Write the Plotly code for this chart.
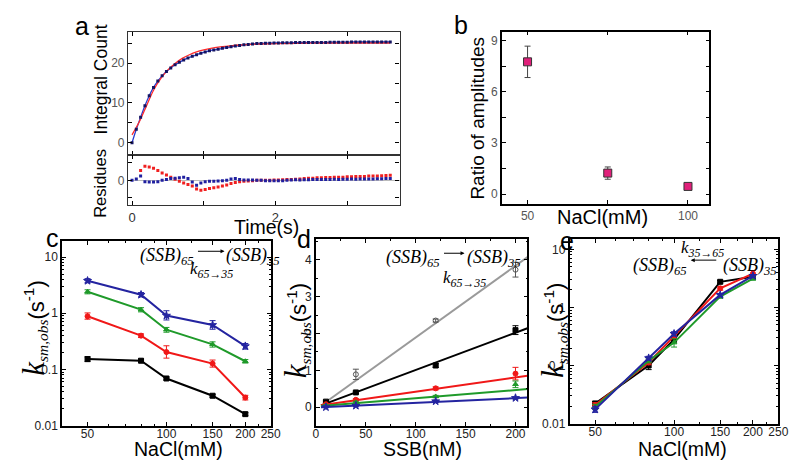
import plotly.graph_objects as go

W, H = 800, 463
def px(x): return x / W
def py(y): return 1 - y / H

# ---------------- data ----------------
# panel a : integral count trace
time_s = [0.00, 0.06, 0.12, 0.18, 0.24, 0.30, 0.36, 0.42, 0.48, 0.54,
          0.60, 0.66, 0.72, 0.78, 0.84, 0.90, 0.96, 1.02, 1.08, 1.14,
          1.20, 1.26, 1.32, 1.38, 1.44, 1.50, 1.56, 1.62, 1.68, 1.74,
          1.80, 1.86, 1.92, 1.98, 2.04, 2.10, 2.16, 2.22, 2.28, 2.34,
          2.40, 2.46, 2.52, 2.58, 2.64, 2.70, 2.76, 2.82, 2.88, 2.94,
          3.00, 3.06, 3.12, 3.18, 3.24, 3.30, 3.36, 3.42, 3.48, 3.54,
          3.60]
integral_count = [0.0, 3.4, 6.4, 9.3, 11.8, 13.9, 15.5, 16.8, 17.9, 18.8,
                  19.6, 20.2, 20.8, 21.3, 21.7, 22.1, 22.5, 22.8, 23.1, 23.3,
                  23.5, 23.7, 23.9, 24.1, 24.3, 24.4, 24.6, 24.7, 24.8, 24.9,
                  24.95, 25.0, 25.0, 25.05, 25.05, 25.1, 25.1, 25.1, 25.15, 25.15,
                  25.15, 25.2, 25.2, 25.2, 25.2, 25.2, 25.25, 25.25, 25.25, 25.25,
                  25.25, 25.3, 25.3, 25.3, 25.3, 25.3, 25.3, 25.3, 25.3, 25.3,
                  25.3]
fit_single_t = [0.0, 0.1, 0.2, 0.3, 0.4, 0.5, 0.6, 0.7, 0.8, 0.9, 1.0,
                1.1, 1.2, 1.3, 1.4, 1.5, 1.6, 1.8, 2.0, 2.5, 3.0, 3.6]
fit_single_y = [2.0, 5.2, 9.2, 13.2, 16.1, 18.3, 19.9, 21.2, 22.1, 22.8, 23.3,
                23.7, 24.0, 24.2, 24.4, 24.55, 24.65, 24.8, 24.9, 25.0, 25.05, 25.05]
resid_single = [None, None, 0.55, 0.80, 0.76, 0.68, 0.55, 0.42, 0.30, 0.18,
                0.06, -0.06, -0.16, -0.24, -0.32, -0.50, -0.56, -0.52, -0.46, -0.42,
                -0.38, -0.32, -0.26, -0.18, -0.12, -0.08, -0.06, -0.04, -0.02, 0.0,
                0.0, 0.0, 0.0, 0.02, 0.02, 0.03, 0.04, 0.05, 0.06, 0.08,
                0.10, 0.12, 0.12, 0.14, 0.15, 0.16, 0.16, 0.17, 0.18, 0.18,
                0.20, 0.20, 0.21, 0.22, 0.22, 0.24, 0.24, 0.25, 0.26, 0.27,
                0.28]
resid_double = [0.0, 0.08, 0.25, -0.08, -0.10, -0.10, -0.08, 0.0, 0.05, 0.10,
                0.12, 0.15, 0.18, 0.10, -0.10, -0.28, -0.15, -0.08, -0.06, -0.05,
                -0.04, -0.02, 0.0, 0.08, 0.10, 0.04, 0.02, 0.02, 0.02, 0.0,
                0.0, -0.02, -0.02, -0.03, -0.03, -0.02, 0.0, 0.02, 0.03, 0.02,
                0.03, 0.03, 0.04, 0.05, 0.04, 0.05, 0.05, 0.06, 0.05, 0.06,
                0.06, 0.07, 0.06, 0.07, 0.08, 0.08, 0.08, 0.09, 0.09, 0.10,
                0.10]

# panel b
nacl_b = [50, 75, 100]
ratio_amp = [7.75, 1.23, 0.45]
ratio_err = [0.92, 0.36, 0.12]

# panel c : k(65->35) vs NaCl
nacl = [50, 80, 100, 150, 200]
c_blue = [3.79, 2.14, 0.91, 0.62, 0.26]
c_blue_ep = [0.35, 0.20, 0.20, 0.12, 0.03]
c_blue_em = [0.30, 0.18, 0.15, 0.10, 0.03]
c_green = [2.42, 1.16, 0.51, 0.28, 0.14]
c_green_e = [0.20, 0.10, 0.05, 0.03, 0.01]
c_red = [0.885, 0.40, 0.204, 0.127, 0.0316]
c_red_ep = [0.13, 0.03, 0.06, 0.02, 0.003]
c_red_em = [0.10, 0.03, 0.045, 0.017, 0.003]
c_black = [0.153, 0.143, 0.069, 0.034, 0.016]
c_black_e = [0.015, 0.010, 0.004, 0.002, 0.001]

# panel d : k vs SSB
ssb = [10, 40, 120, 200]
d_gray = [0.12, 0.89, 2.35, 3.73]
d_gray_e = [0.03, 0.14, 0.04, 0.20]
d_black = [0.15, 0.40, 1.13, 2.09]
d_black_e = [0.03, 0.03, 0.05, 0.12]
d_red = [0.08, 0.20, 0.51, 0.91]
d_red_e = [0.02, 0.03, 0.04, 0.17]
d_green = [0.05, 0.13, 0.29, 0.62]
d_green_e = [0.02, 0.03, 0.03, 0.09]
d_blue = [0.0, 0.04, 0.16, 0.25]
d_blue_e = [0.01, 0.02, 0.03, 0.03]
fit_gray_x = [10, 212]
fit_gray_y = [0.14, 4.07]
fit_x = [5, 212]
fit_black_y = [0.05, 2.14]
fit_red_y = [0.05, 0.85]
fit_green_y = [0.03, 0.49]
fit_blue_y = [0.0, 0.26]

# panel e : k(35->65) vs NaCl
e_black = [0.0222, 0.100, 0.282, 2.76, 3.36]
e_black_e = [0.002, 0.015, 0.03, 0.15, 0.2]
e_red = [0.0209, 0.113, 0.321, 2.13, 3.82]
e_red_e = [0.002, 0.01, 0.03, 0.15, 0.5]
e_green = [0.0195, 0.121, 0.248, 1.54, 3.14]
e_green_e = [0.002, 0.01, 0.04, 0.1, 0.2]
e_blue = [0.0176, 0.134, 0.352, 1.64, 3.49]
e_blue_e = [0.002, 0.01, 0.03, 0.1, 0.2]

log_ticks_x = [50, 100, 150, 200, 250]
log_ticks_y = [0.01, 0.1, 1, 10]

BLACK, RED, GREEN, BLUE, GRAY = '#000000', '#f01818', '#1f9a2a', '#2424a0', '#8a8a8a'

fig = go.Figure()

# ---- panel a ----
fig.add_trace(go.Scatter(x=time_s, y=integral_count, mode='lines', line=dict(color='#2a3cd0', width=1.3, shape='spline'),
                         xaxis='x', yaxis='y', showlegend=False))
fig.add_trace(go.Scatter(x=fit_single_t, y=fit_single_y, mode='lines', line=dict(color='#ff2a2a', width=1.3, shape='spline'),
                         xaxis='x', yaxis='y', showlegend=False))
fig.add_trace(go.Scatter(x=time_s, y=integral_count, mode='markers', marker=dict(color='#141460', size=3, symbol='square'),
                         xaxis='x', yaxis='y', showlegend=False))
fig.add_trace(go.Scatter(x=time_s, y=resid_single, mode='markers', marker=dict(color='#f02020', size=3, symbol='square'),
                         xaxis='x2', yaxis='y2', showlegend=False))
fig.add_trace(go.Scatter(x=time_s, y=resid_double, mode='markers', marker=dict(color='#2020a0', size=3, symbol='square'),
                         xaxis='x2', yaxis='y2', showlegend=False))

# ---- panel b ----
fig.add_trace(go.Scatter(x=nacl_b, y=ratio_amp, mode='markers',
                         marker=dict(symbol='square', size=8, color='#e0207a', line=dict(color='#333', width=1)),
                         error_y=dict(type='data', array=ratio_err, color='#444', thickness=1, width=3),
                         xaxis='x3', yaxis='y3', showlegend=False))

# ---- panel c ----
def series(x, y, color, symbol, ep, em=None, ax='x4', ay='y4', size=5):
    err = dict(type='data', array=ep, color=color, thickness=1, width=3)
    if em is not None:
        err['arrayminus'] = em
        err['symmetric'] = False
    return go.Scatter(x=x, y=y, mode='lines+markers', line=dict(color=color, width=2),
                      marker=dict(symbol=symbol, size=size, color=color, line=dict(color=color, width=1)),
                      error_y=err, xaxis=ax, yaxis=ay, showlegend=False)

fig.add_trace(series(nacl, c_black, BLACK, 'square', c_black_e))
fig.add_trace(series(nacl, c_red, RED, 'circle', c_red_ep, c_red_em))
fig.add_trace(series(nacl, c_green, GREEN, 'triangle-up', c_green_e))
fig.add_trace(series(nacl, c_blue, BLUE, 'star', c_blue_ep, c_blue_em, size=6))

# ---- panel d ----
for fx, fy, col in [(fit_gray_x, fit_gray_y, '#9a9a9a'), (fit_x, fit_black_y, BLACK), (fit_x, fit_red_y, RED),
                    (fit_x, fit_green_y, GREEN), (fit_x, fit_blue_y, BLUE)]:
    fig.add_trace(go.Scatter(x=fx, y=fy, mode='lines', line=dict(color=col, width=2), xaxis='x5', yaxis='y5', showlegend=False))
for yy, ee, col, sym in [(d_gray, d_gray_e, '#555555', 'circle-open'), (d_black, d_black_e, BLACK, 'square'),
                         (d_red, d_red_e, RED, 'circle'), (d_green, d_green_e, GREEN, 'triangle-up'),
                         (d_blue, d_blue_e, BLUE, 'star')]:
    fig.add_trace(go.Scatter(x=ssb, y=yy, mode='markers',
                             marker=dict(symbol=sym, size=5 if sym != 'star' else 6, color=col, line=dict(color=col, width=1)),
                             error_y=dict(type='data', array=ee, color=col, thickness=1, width=3),
                             xaxis='x5', yaxis='y5', showlegend=False))

# ---- panel e ----
fig.add_trace(series(nacl, e_black, BLACK, 'square', e_black_e, ax='x6', ay='y6'))
fig.add_trace(series(nacl, e_red, RED, 'circle', e_red_e, ax='x6', ay='y6'))
fig.add_trace(series(nacl, e_green, GREEN, 'triangle-up', e_green_e, ax='x6', ay='y6'))
fig.add_trace(series(nacl, e_blue, BLUE, 'star', e_blue_e, ax='x6', ay='y6', size=6))

# ---------------- axes ----------------
TF = dict(family='Liberation Sans, Arial, sans-serif', size=12, color='#222')
def axis(domain, rng, anchor, lw=1.5, **kw):
    d = dict(domain=domain, range=rng, anchor=anchor, showline=True, linecolor='black', linewidth=lw,
             mirror='ticks', ticks='inside', ticklen=4, tickwidth=1, tickcolor='black', tickfont=TF,
             showgrid=False, zeroline=False)
    d.update(kw)
    return d

AF = dict(family='Liberation Sans, Arial, sans-serif', size=12, color='#555')
xa_dom = [px(119), px(395)]
minor_log_x = dict(tickmode='array', tickvals=[60, 70, 80, 90, 125, 175, 225], ticks='inside', ticklen=2, tickcolor='black')
minor_log_y = dict(tickmode='array',
                   tickvals=[m * d for d in (0.01, 0.1, 1) for m in range(2, 10)] + [20],
                   ticks='inside', ticklen=2, tickcolor='black')

fig.update_layout(
    width=W, height=H, margin=dict(l=0, r=0, t=0, b=0),
    paper_bgcolor='white', plot_bgcolor='white',
    xaxis=axis(xa_dom, [-0.055, 3.73], 'y', lw=1.3, tickvals=[0, 1, 2, 3], showticklabels=False, linecolor='#333'),
    yaxis=axis([py(149), py(24)], [-3, 27.9], 'x', lw=1.3, tickvals=[0, 5, 10, 15, 20, 25],
               ticktext=['0', '', '10', '', '20', ''], tickfont=AF, linecolor='#333'),
    xaxis2=axis(xa_dom, [-0.055, 3.73], 'y2', lw=1.3, tickvals=[0, 1, 2, 3], ticktext=['0', '', '2', ''],
                tickfont=dict(family='Liberation Sans, Arial, sans-serif', size=13, color='#333'), linecolor='#333'),
    yaxis2=axis([py(200), py(149)], [-1.4, 1.45], 'x2', lw=1.3, tickvals=[-1, 0, 1], ticktext=['', '0', ''],
                tickfont=AF, zeroline=True, zerolinecolor='#bbbbbb', zerolinewidth=1, linecolor='#333'),
    xaxis3=axis([px(499), px(710)], [42, 106.7], 'y3', tickvals=[50, 75, 100], ticktext=['50', '', '100'], tickfont=AF),
    yaxis3=axis([py(199), py(24)], [-0.58, 9.52], 'x3', tickvals=[0, 1.5, 3, 4.5, 6, 7.5, 9],
                ticktext=['0', '', '3', '', '6', '', '9'], tickfont=AF),
    xaxis4=axis([px(52), px(264)], [1.60206, 2.39794], 'y4', lw=1.8, type='log', tickvals=log_ticks_x,
                ticktext=[str(v) for v in log_ticks_x], minor=minor_log_x, ticklabelstandoff=-4),
    yaxis4=axis([py(424), py(237)], [-2, 1.28], 'x4', lw=1.8, type='log', tickvals=log_ticks_y,
                ticktext=['0.01', '0.1', '1', '10'], minor=minor_log_y),
    xaxis5=axis([px(310), px(525)], [0, 212], 'y5', lw=1.8, tickvals=[0, 50, 100, 150, 200], ticklabelstandoff=-4,
                minor=dict(tickmode='array', tickvals=[25, 75, 125, 175], ticks='inside', ticklen=2, tickcolor='black')),
    yaxis5=axis([py(424), py(235)], [-0.5, 4.55], 'x5', lw=1.8, tickvals=[0, 1, 2, 3, 4],
                minor=dict(tickmode='array', tickvals=[-0.5, 0.5, 1.5, 2.5, 3.5, 4.5], ticks='inside', ticklen=2, tickcolor='black')),
    xaxis6=axis([px(568), px(780)], [1.60206, 2.39794], 'y6', lw=1.8, type='log', tickvals=log_ticks_x,
                ticktext=[str(v) for v in log_ticks_x], minor=minor_log_x, ticklabelstandoff=-4),
    yaxis6=axis([py(422), py(235)], [-2, 1.17], 'x6', lw=1.8, type='log', tickvals=log_ticks_y,
                ticktext=['0.01', '0.1', '1', '10'], minor=minor_log_y),
)

# ---------------- annotations ----------------
SANS = 'Liberation Sans, Arial, sans-serif'
SERIF = 'Liberation Serif, Times New Roman, serif'
def ann(text, x, y, size=19, family=SANS, angle=0, xanchor='center', yanchor='middle', color='black'):
    return dict(text=text, x=px(x), y=py(y), xref='paper', yref='paper', showarrow=False,
                font=dict(size=size, family=family, color=color), textangle=angle,
                xanchor=xanchor, yanchor=yanchor)

def arrow(x_head, x_tail, y):
    return dict(text='', x=px(x_head), y=py(y), xref='paper', yref='paper', showarrow=True,
                ax=x_tail - x_head, ay=0, arrowhead=2, arrowsize=0.8, arrowwidth=1, arrowcolor='black')

KTITLE = ('<i><span style="font-family:Liberation Serif;font-size:31px">k</span></i>'
          '<sub><i><span style="font-family:Liberation Serif">sm,obs</span></i></sub>(s<sup>-1</sup>)')

annotations = [
    ann('a', 72, 18, size=25), ann('b', 457, 17, size=25), ann('c', 42, 234, size=25),
    ann('d', 298, 235, size=25), ann('e', 565, 237, size=25),
    ann('Integral Count', 91, 73, size=17.5, angle=-90),
    ann('Residues', 91, 178, size=16.5, angle=-90),
    ann('Time(s)', 260, 222, size=19.5),
    ann('Ratio of amplitudes', 474, 112, size=19, angle=-90),
    ann('NaCl(mM)', 601, 212, size=20),
    ann(KTITLE, 23, 325, size=22, angle=-90),
    ann(KTITLE, 290, 328, size=22, angle=-90),
    ann(KTITLE, 551, 328, size=22, angle=-90),
    ann('NaCl(mM)', 170, 448, size=19.5),
    ann('SSB(nM)', 418, 448, size=19.5),
    ann('NaCl(mM)', 683, 448, size=19.5),
    # c reaction
    ann('<i>(SSB)<sub>65</sub></i>', 188, 252, size=18, family=SERIF, xanchor='right'),
    arrow(217, 189, 247),
    ann('<i>(SSB)<sub>35</sub></i>', 217, 252, size=18, family=SERIF, xanchor='left'),
    ann('<i>k<sub>65→35</sub></i>', 204, 266, size=17, family=SERIF),
    # d reaction
    ann('<i>(SSB)<sub>65</sub></i>', 438, 254, size=18, family=SERIF, xanchor='right'),
    arrow(461, 439, 249),
    ann('<i>(SSB)<sub>35</sub></i>', 461, 254, size=18, family=SERIF, xanchor='left'),
    ann('<i>k<sub>65→35</sub></i>', 461, 275, size=17, family=SERIF),
    # e reaction
    ann('<i>(SSB)<sub>65</sub></i>', 689, 262, size=18, family=SERIF, xanchor='right'),
    arrow(691, 718, 256),
    ann('<i>(SSB)<sub>35</sub></i>', 722, 262, size=18, family=SERIF, xanchor='left'),
    ann('<i>k<sub>35→65</sub></i>', 703, 245, size=17, family=SERIF),
]
fig.update_layout(annotations=annotations)

fig.write_html('out.html')
